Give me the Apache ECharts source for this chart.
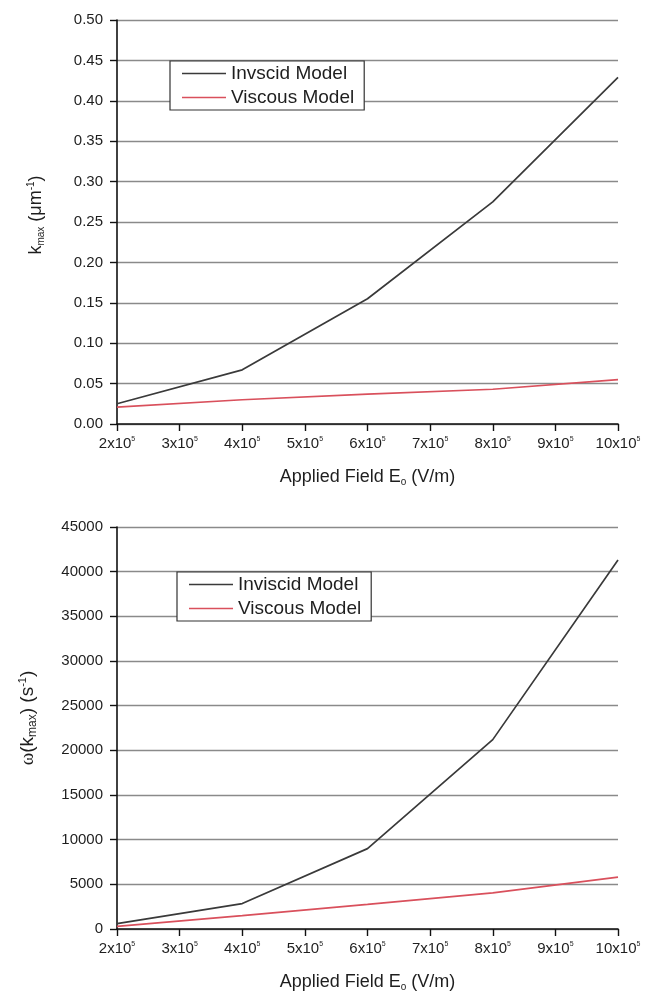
<!DOCTYPE html>
<html>
<head>
<meta charset="utf-8">
<script src="https://cdn.jsdelivr.net/npm/echarts@6/dist/echarts.min.js"></script>
<style>
html,body{margin:0;padding:0;background:#fff;}
#c{width:646px;height:993px;}
</style>
</head>
<body>
<div id="c"></div>
<script>
// Applied field (x 10^5 V/m)
var fieldValues = [2, 4, 6, 8, 10];
// Top panel: k_max (um^-1)
var kInviscid = [0.025, 0.067, 0.155, 0.275, 0.429];
var kViscous  = [0.021, 0.030, 0.037, 0.043, 0.055];
// Bottom panel: omega(k_max) (s^-1)
var wInviscid = [600, 2850, 9000, 21200, 41300];
var wViscous  = [300, 1500, 2750, 4050, 5800];
var legendTop = ['Invscid Model', 'Viscous Model'];
var legendBottom = ['Inviscid Model', 'Viscous Model'];

function pairs(xs, ys){ return xs.map(function(x,i){ return [x, ys[i]]; }); }

var FONT = 'Liberation Sans, Arial, Helvetica, sans-serif';
var SERIF = 'Liberation Serif, DejaVu Serif, serif';
var txt = '#1e1e1e';
var blackLine = '#3a3a3a';
var redLine = '#d9505c';

function xAxisCfg(idx){
  return {
    type: 'value', gridIndex: idx, min: 2, max: 10, interval: 1,
    axisLine: {show: true, lineStyle: {color: '#111', width: 1.6}},
    axisTick: {show: true, inside: false, length: 7, lineStyle: {color: '#111', width: 1.4}},
    splitLine: {show: false},
    axisLabel: {
      margin: 12,
      formatter: function(v){ return '{a|' + v + 'x10}{s|5}'; },
      rich: {
        a: {fontFamily: FONT, fontSize: 15, color: txt},
        s: {fontFamily: FONT, fontSize: 7, color: txt, padding: [0, 0, 9, 0]}
      }
    },
    name: '{t|Applied Field E}{sub|o}{t| (V/m)}',
    nameLocation: 'middle', nameGap: 43,
    nameTextStyle: {
      rich: {
        t: {fontFamily: FONT, fontSize: 18, color: txt},
        sub: {fontFamily: FONT, fontSize: 10, color: txt, padding: [10, 0, 0, 0]}
      }
    }
  };
}

function yAxisCfg(idx, max, interval, fmt){
  return {
    type: 'value', gridIndex: idx, min: 0, max: max, interval: interval,
    axisLine: {show: true, lineStyle: {color: '#111', width: 1.6}},
    axisTick: {show: true, inside: false, length: 7, lineStyle: {color: '#111', width: 1.4}},
    splitLine: {show: true, lineStyle: {color: '#8a8a8a', width: 1.4}},
    axisLabel: {fontFamily: FONT, fontSize: 15, color: txt, margin: 14, formatter: fmt},
    nameLocation: 'middle', nameRotate: 90
  };
}

var yTop = yAxisCfg(0, 0.5, 0.05, function(v){ return v.toFixed(2); });
yTop.name = '{t|k}{sub|max}{t| (μm}{sup|-1}{t|)}';
yTop.nameGap = 71;
yTop.nameTextStyle = {
  padding: [0, 0, 0, 14],
  rich: {
    t: {fontFamily: FONT, fontSize: 18, color: txt},
    sub: {fontFamily: FONT, fontSize: 10, color: txt, padding: [10, 0, 0, 0]},
    sup: {fontFamily: FONT, fontSize: 10, color: txt, padding: [0, 0, 10, 0]}
  }
};
var yBot = yAxisCfg(1, 45000, 5000, function(v){ return String(Math.round(v)); });
yBot.name = '{w|ω}{t|(k}{sub|max}{t|) (s}{sup|-1}{t|)}';
yBot.nameGap = 78;
yBot.nameTextStyle = {
  padding: [0, 0, 0, 20],
  rich: {
    w: {fontFamily: SERIF, fontSize: 19, color: txt},
    t: {fontFamily: FONT, fontSize: 19, color: txt},
    sub: {fontFamily: FONT, fontSize: 12, color: txt, padding: [10, 0, 0, 0]},
    sup: {fontFamily: FONT, fontSize: 11, color: txt, padding: [0, 0, 10, 0]}
  }
};

var legendCommon = {
  orient: 'vertical',
  backgroundColor: '#fff',
  borderColor: '#333', borderWidth: 1.2,
  itemWidth: 44, itemHeight: 14, itemGap: 5,
  textStyle: {fontFamily: FONT, fontSize: 19, color: txt},
  icon: 'path://M0,0 L44,0 L44,1.5 L0,1.5 Z'
};

var option = {
  animation: false,
  backgroundColor: '#fff',
  grid: [
    {left: 117, right: 28, top: 20, height: 404, containLabel: false},
    {left: 117, right: 28, top: 527, height: 403, containLabel: false}
  ],
  xAxis: [xAxisCfg(0), xAxisCfg(1)],
  yAxis: [yTop, yBot],
  legend: [
    Object.assign({}, legendCommon, {
      data: [{name: legendTop[0], itemStyle: {color: blackLine}}, {name: legendTop[1], itemStyle: {color: redLine}}],
      left: 170, top: 61, padding: [3, 10, 3, 12]
    }),
    Object.assign({}, legendCommon, {
      data: [{name: legendBottom[0], itemStyle: {color: blackLine}}, {name: legendBottom[1], itemStyle: {color: redLine}}],
      left: 177, top: 572, padding: [3, 10, 3, 12]
    })
  ],
  series: [
    {name: legendTop[0], type: 'line', xAxisIndex: 0, yAxisIndex: 0, symbol: 'none',
     lineStyle: {color: blackLine, width: 1.7}, itemStyle: {color: blackLine}, data: pairs(fieldValues, kInviscid)},
    {name: legendTop[1], type: 'line', xAxisIndex: 0, yAxisIndex: 0, symbol: 'none',
     lineStyle: {color: redLine, width: 1.7}, itemStyle: {color: redLine}, data: pairs(fieldValues, kViscous)},
    {name: legendBottom[0], type: 'line', xAxisIndex: 1, yAxisIndex: 1, symbol: 'none',
     lineStyle: {color: blackLine, width: 1.7}, itemStyle: {color: blackLine}, data: pairs(fieldValues, wInviscid)},
    {name: legendBottom[1], type: 'line', xAxisIndex: 1, yAxisIndex: 1, symbol: 'none',
     lineStyle: {color: redLine, width: 1.7}, itemStyle: {color: redLine}, data: pairs(fieldValues, wViscous)}
  ]
};

var chart = echarts.init(document.getElementById('c'), null, {renderer: 'canvas'});
chart.setOption(option);
</script>
</body>
</html>
